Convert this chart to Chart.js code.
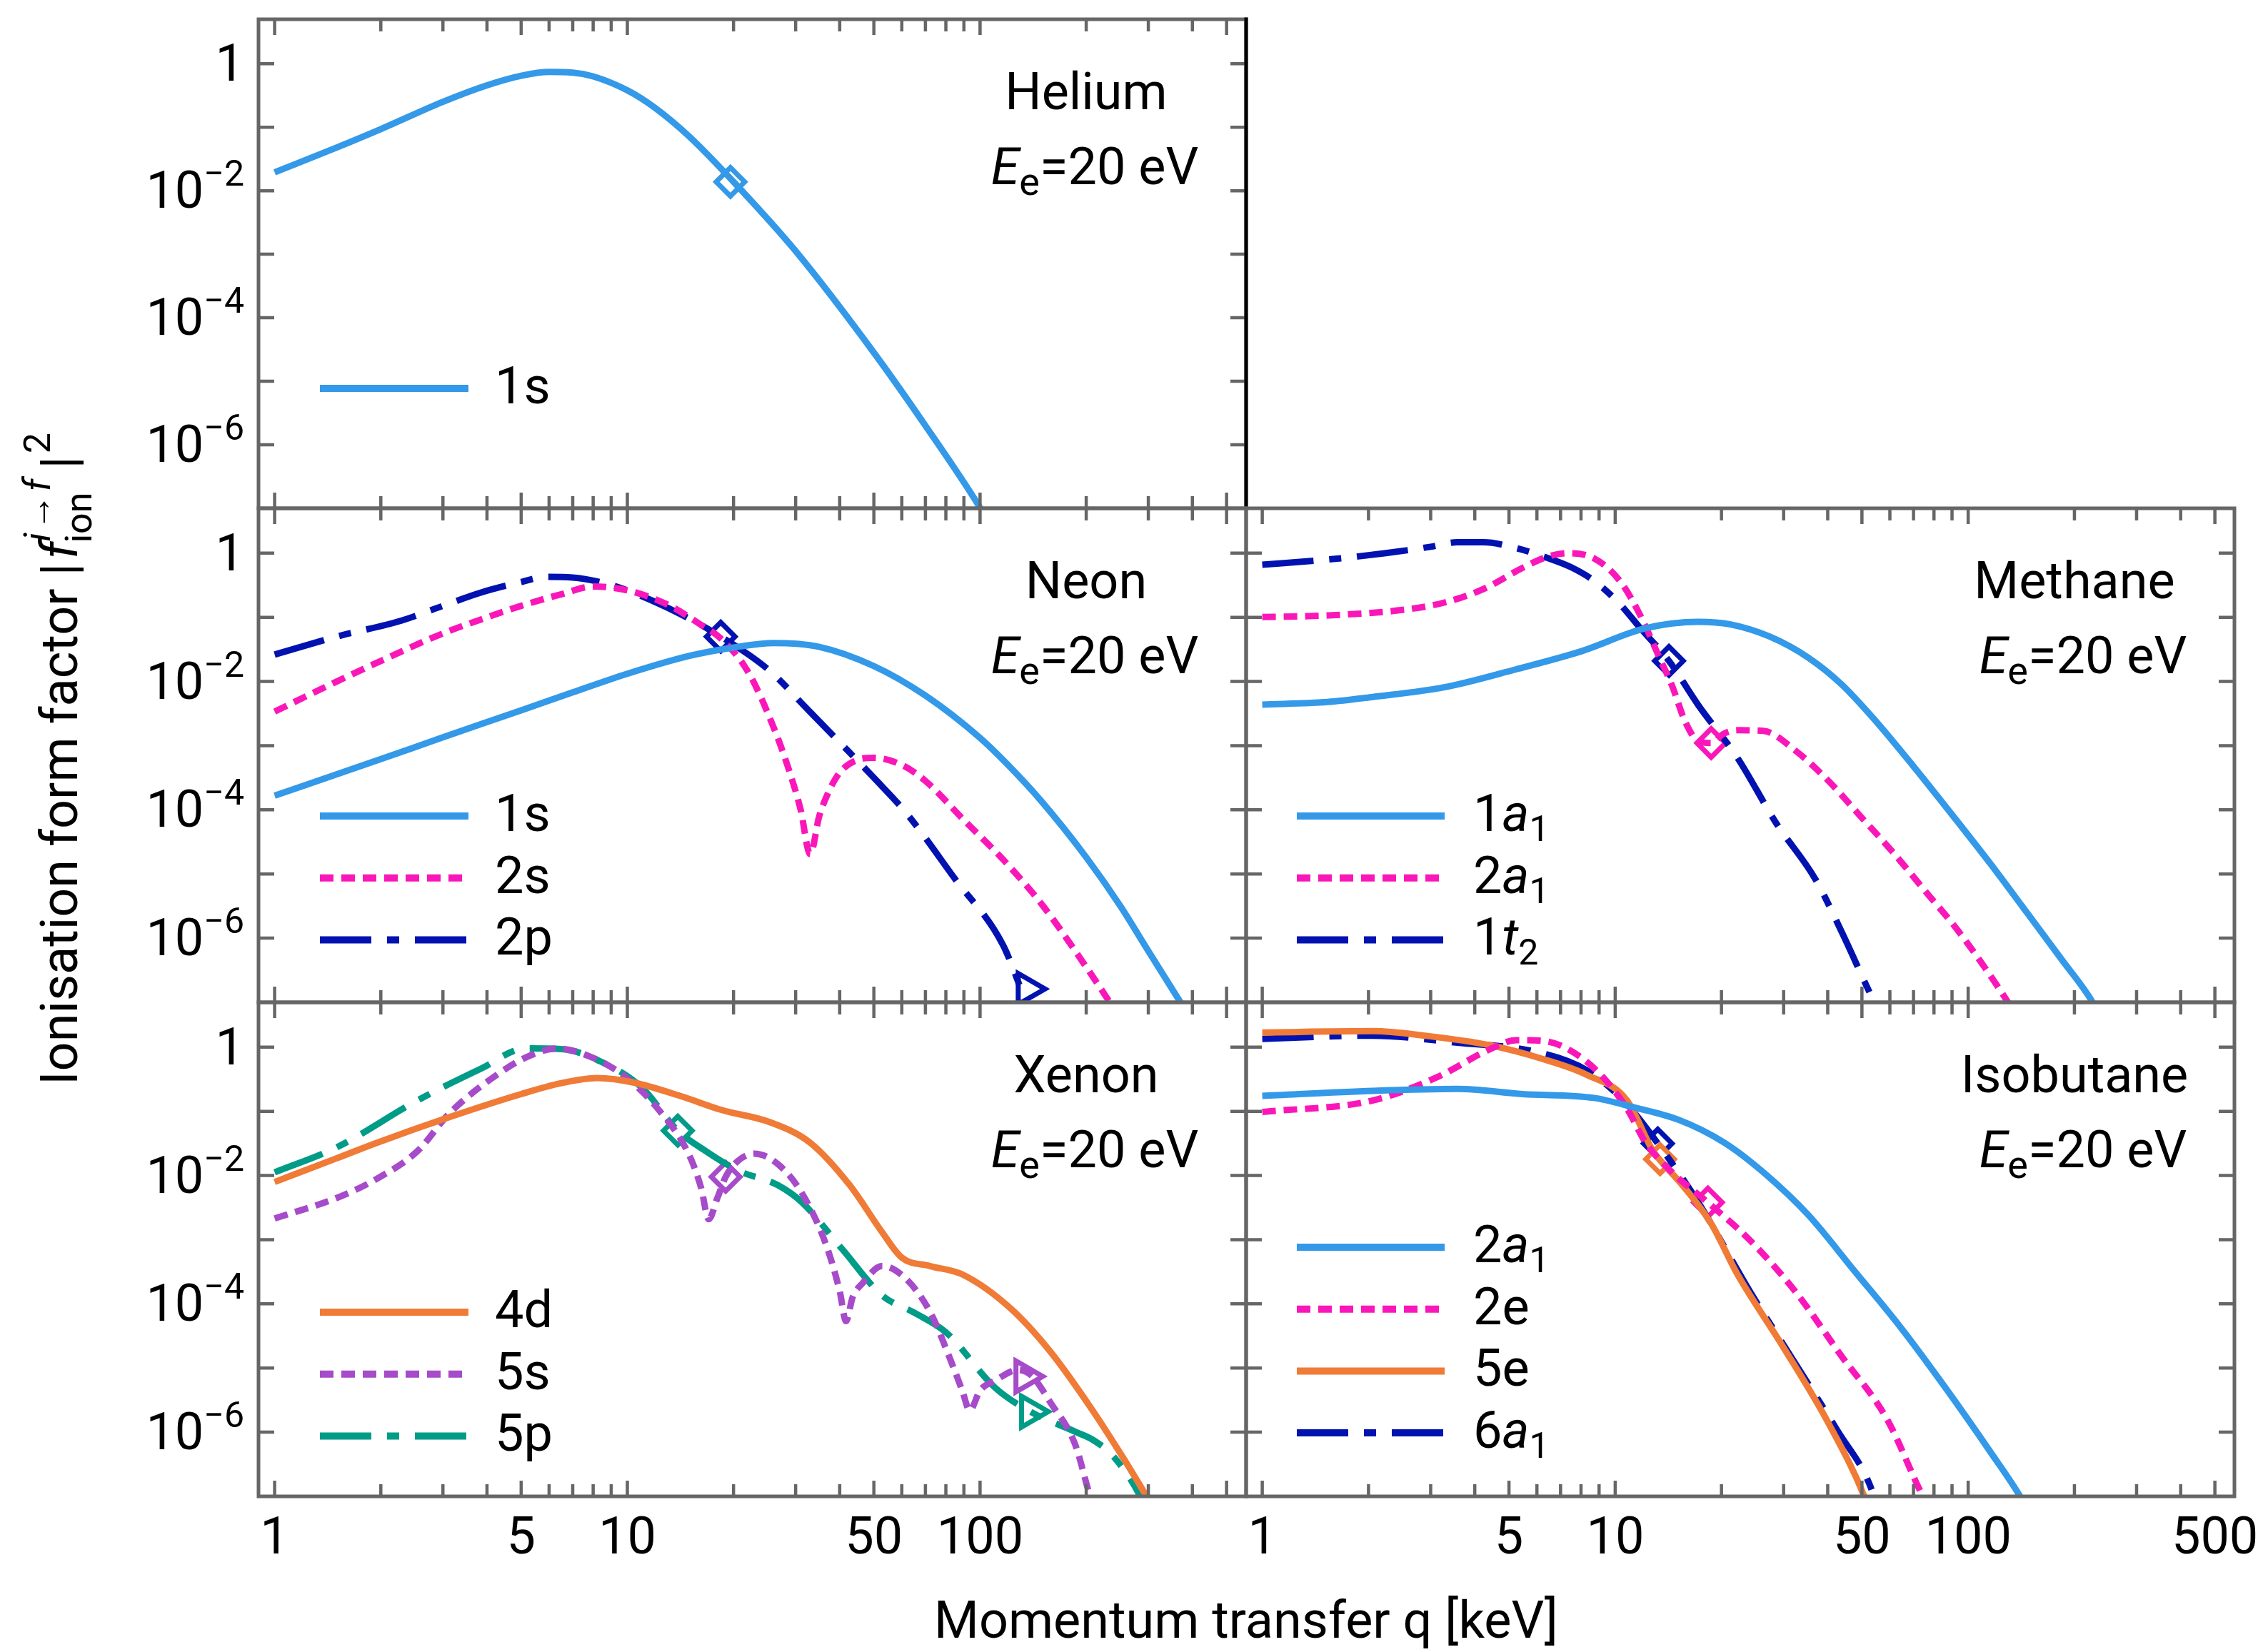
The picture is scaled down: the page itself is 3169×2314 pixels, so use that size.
<!DOCTYPE html>
<html lang="en">
<head>
<meta charset="UTF-8">
<title>Ionisation form factors</title>
<script src="https://cdn.jsdelivr.net/npm/chart.js"></script>
<style>
  body { margin: 0; background: #fff; overflow: hidden; }
  #page { position: relative; width: 3169px; height: 2314px; }
  #page canvas { position: absolute; left: 0; top: 0; }
</style>
</head>
<body>
<div id="page">
  <canvas id="cHe" width="3169" height="2314"></canvas>
  <canvas id="cNe" width="3169" height="2314"></canvas>
  <canvas id="cMe" width="3169" height="2314"></canvas>
  <canvas id="cXe" width="3169" height="2314"></canvas>
  <canvas id="cIb" width="3169" height="2314"></canvas>
</div>
<script>
// ---- values: q [keV] and |f|^2 ----
const he1sQ = [1, 1.5, 2, 3, 4, 5, 6, 7, 8, 10, 12, 15, 20, 30, 50, 70, 100, 110];
const he1sF = [1.95e-2, 4.79e-2, 9.33e-2, 0.251, 0.457, 0.646, 0.741, 0.724, 0.631, 0.380, 0.200, 7.08e-2, 1.38e-2, 1.12e-3, 2.82e-5, 2.0e-6, 1.02e-7, 4e-8];

const ne1sQ = [1, 2, 3, 5, 7, 10, 15, 20, 26, 35, 50, 70, 100, 120, 150, 200, 250, 300, 370, 400];
const ne1sF = [1.66e-4, 6.17e-4, 1.35e-3, 3.55e-3, 6.76e-3, 1.32e-2, 2.51e-2, 3.39e-2, 3.98e-2, 3.47e-2, 1.74e-2, 6.03e-3, 1.32e-3, 5.01e-4, 1.32e-4, 1.82e-5, 3.16e-6, 6.31e-7, 1.0e-7, 5e-8];
const ne2sQ = [1, 1.5, 2, 3, 4, 5, 6.5, 8, 10, 13, 16, 18.4, 22, 26, 29, 31, 33, 35, 37, 40, 45, 50, 60, 70, 90, 116, 150, 200, 240];
const ne2sF = [3.39e-3, 1.0e-2, 2.09e-2, 5.62e-2, 0.1, 0.151, 0.229, 0.302, 0.263, 0.158, 7.94e-2, 4.68e-2, 1.41e-2, 1.91e-3, 3.55e-4, 1.0e-4, 2.04e-5, 7.94e-5, 1.78e-4, 3.80e-4, 6.03e-4, 6.46e-4, 5.01e-4, 2.82e-4, 6.92e-5, 1.70e-5, 3.31e-6, 3.55e-7, 7.94e-8];
const ne2pQ = [1, 1.5, 2.29, 3, 3.86, 5, 5.87, 7, 8.5, 10, 13, 18.4, 25.4, 32, 40.5, 50, 62, 85, 116, 135];
const ne2pF = [2.63e-2, 5.01e-2, 8.91e-2, 0.151, 0.245, 0.355, 0.427, 0.417, 0.347, 0.263, 0.141, 5.01e-2, 1.45e-2, 3.98e-3, 1.05e-3, 3.16e-4, 8.71e-5, 8.32e-6, 7.94e-7, 1.0e-7];

const me1a1Q = [1, 1.53, 2.06, 3.28, 5.24, 8.0, 12.2, 17.2, 21.2, 27.4, 35.3, 43.7, 54, 69.7, 93.8, 116, 143, 185, 224, 240];
const me1a1F = [4.37e-3, 4.79e-3, 5.75e-3, 8.13e-3, 1.55e-2, 2.95e-2, 6.76e-2, 8.51e-2, 7.76e-2, 5.01e-2, 2.34e-2, 9.12e-3, 2.63e-3, 4.90e-4, 6.31e-5, 1.41e-5, 3.02e-6, 4.47e-7, 1.05e-7, 5e-8];
const me2a1Q = [1, 1.53, 2.54, 3.28, 4.23, 5.46, 6.4, 7.35, 8.7, 10.3, 11.7, 13.3, 14.5, 15.8, 17.2, 18.7, 20.2, 22.2, 26.3, 32.6, 40.2, 49.7, 61.4, 75.9, 93.8, 129, 140];
const me2a1F = [0.101, 0.107, 0.132, 0.170, 0.275, 0.589, 0.871, 1.0, 0.832, 0.372, 0.115, 2.45e-2, 8.51e-3, 2.34e-3, 1.17e-3, 1.10e-3, 1.51e-3, 1.74e-3, 1.70e-3, 8.13e-4, 2.82e-4, 7.76e-5, 2.14e-5, 5.25e-6, 1.29e-6, 1.05e-7, 5e-8];
const me1t2Q = [1, 1.53, 2.24, 3.0, 3.57, 4.23, 5.24, 6.47, 7.5, 8.7, 10.3, 11.7, 14.2, 17.2, 22.2, 28.6, 36.9, 43.7, 54, 58];
const me1t2F = [0.661, 0.794, 1.0, 1.259, 1.479, 1.479, 1.202, 0.832, 0.603, 0.372, 0.162, 7.08e-2, 2.09e-2, 4.27e-3, 6.46e-4, 6.17e-5, 8.32e-6, 1.29e-6, 1.05e-7, 5e-8];

const xe4dQ = [1, 1.5, 1.95, 3.13, 5.0, 6.5, 8.2, 10.4, 14.3, 18.5, 25.4, 33, 42.7, 52.7, 60, 72, 89, 122, 158, 205, 254, 296, 320];
const xe4dF = [7.94e-3, 1.86e-2, 3.24e-2, 8.13e-2, 0.186, 0.275, 0.331, 0.282, 0.170, 0.105, 6.76e-2, 3.24e-2, 7.08e-3, 1.32e-3, 5.25e-4, 3.89e-4, 2.88e-4, 8.51e-5, 1.82e-5, 2.51e-6, 4.07e-7, 1.02e-7, 5e-8];
const xe5sQ = [1, 1.5, 1.95, 2.54, 3.13, 4.27, 5.2, 6.3, 8.03, 9.85, 12.2, 15, 16.2, 17, 18, 19, 20.5, 22.9, 26.7, 31.3, 36.6, 40, 41.7, 43.5, 46.4, 52.8, 61.7, 72.4, 82.4, 89, 93.5, 100, 110, 128, 140, 158, 186, 205, 215];
const xe5sF = [2.14e-3, 4.47e-3, 8.91e-3, 2.40e-2, 9.33e-2, 0.372, 0.708, 0.955, 0.676, 0.347, 0.110, 2.04e-2, 6.31e-3, 2.09e-3, 4.47e-3, 9.55e-3, 1.66e-2, 2.19e-2, 1.51e-2, 5.25e-3, 8.32e-4, 1.58e-4, 5.37e-5, 1.26e-4, 2.09e-4, 3.89e-4, 2.45e-4, 7.24e-5, 1.35e-5, 4.47e-6, 2.19e-6, 4.47e-6, 6.31e-6, 9.33e-6, 7.59e-6, 2.95e-6, 6.46e-7, 1.02e-7, 5e-8];
const xe5pQ = [1, 1.5, 2.54, 3.86, 5.14, 6.5, 8.45, 11, 13.9, 16.7, 20.6, 26.7, 31.3, 40.7, 52.8, 65.2, 80.3, 110, 139, 186, 209, 240, 284, 300];
const xe5pF = [1.12e-2, 2.75e-2, 0.148, 0.468, 0.955, 0.933, 0.589, 0.234, 5.01e-2, 2.40e-2, 1.20e-2, 7.08e-3, 3.80e-3, 7.08e-4, 1.35e-4, 7.24e-5, 3.55e-5, 5.01e-6, 2.09e-6, 1.02e-6, 7.59e-7, 4.07e-7, 1.02e-7, 5e-8];

const ib2a1Q = [1, 2.06, 3.57, 5.46, 8.7, 11.2, 15.1, 20.4, 26.3, 35.3, 47.5, 64, 86, 116, 140, 150];
const ib2a1F = [0.174, 0.209, 0.224, 0.186, 0.162, 0.117, 7.41e-2, 3.24e-2, 1.12e-2, 2.40e-3, 3.31e-4, 4.47e-5, 5.01e-6, 4.79e-7, 1.02e-7, 5e-8];
const ib2eQ = [1, 2.06, 3.15, 4.42, 5.24, 6.2, 7.35, 9.1, 10.8, 12.2, 14.5, 18.3, 24.1, 32.4, 43.6, 58.8, 74.3, 80];
const ib2eF = [9.77e-2, 0.148, 0.347, 0.933, 1.288, 1.259, 0.933, 0.372, 0.110, 3.24e-2, 1.12e-2, 3.80e-3, 9.77e-4, 1.55e-4, 1.58e-5, 1.62e-6, 1.02e-7, 5e-8];
const ib5eQ = [1, 2.06, 2.88, 4.42, 6.2, 8.3, 10.8, 12.8, 13.6, 15.5, 18.7, 22.2, 29.9, 40.2, 50.7, 53];
const ib5eF = [1.698, 1.778, 1.514, 1.072, 0.661, 0.372, 0.148, 2.40e-2, 1.58e-2, 7.08e-3, 1.78e-3, 2.88e-4, 2.14e-5, 1.38e-6, 1.02e-7, 5e-8];
const ib6a1Q = [1, 2.06, 3.57, 5.94, 8.3, 10.8, 13.2, 17.2, 24.1, 32.4, 42.8, 52.9, 56];
const ib6a1F = [1.349, 1.514, 1.175, 0.851, 0.437, 0.129, 3.16e-2, 3.80e-3, 1.55e-4, 1.17e-5, 1.02e-6, 1.41e-7, 5e-8];

// markers on the curves, [q, |f|^2]
const heDiamond1s = [[19.6, 1.38e-2]];
const neDiamond2p = [[18.4, 5.01e-2]];
const neTriangle2p = [[136, 1.62e-7]];
const meDiamond2a1 = [[18.7, 1.10e-3]];
const meDiamond1t2 = [[14.2, 2.09e-2]];
const xeDiamond5p = [[13.9, 5.01e-2]];
const xeDiamond5s = [[19, 9.55e-3]];
const xeTriangle5s = [[134, 7.4e-6]];
const xeTriangle5p = [[139, 2.09e-6]];
const ibDiamond5e = [[13.4, 1.8e-2]];
const ibDiamond6a1 = [[13.2, 3.16e-2]];
const ibDiamond2e = [[18.3, 3.8e-3]];

// axis ticks
const xTickMarks = [1, 2, 3, 4, 5, 6, 7, 8, 9, 10, 20, 30, 40, 50, 60, 70, 80, 90, 100, 200, 300, 400, 500];
const xLongTicks = [1, 5, 10, 50, 100, 500];
const xLabelsLeft = [1, 5, 10, 50, 100];
const xLabelsRight = [1, 5, 10, 50, 100, 500];
const yTickMarks = [1e-6, 1e-5, 1e-4, 1e-3, 1e-2, 1e-1, 1];
const yLabelVals = [1, 1e-2, 1e-4, 1e-6];
const yLabelExp = ['', '−2', '−4', '−6'];

// ---- layout / style ----
const PAGE_W = 3169, PAGE_H = 2314;
const COLS = [362, 1745, 3129];
const ROWS = [20, 712, 1404, 2096];
const XAXIS_H = 120;
const FRAME = '#666666';
const C = { lblue: '#3399e8', pink: '#fa17b9', navy: '#0212b0', orange: '#ef7b37', purple: '#a64bc9', teal: '#009c87' };
const DOT = [19, 11];
const DASHDOT = [72, 22, 17, 22];
const FONT = 'Roboto';

function curve(label, q, f, color, dash) {
  return {
    label, data: q.map((x, i) => ({ x, y: f[i] })),
    borderColor: color, borderWidth: 9, borderDash: dash || [], borderCapStyle: 'butt',
    pointRadius: 0, fill: false, cubicInterpolationMode: 'monotone', clip: 0
  };
}
function marks(pts, color, tri) {
  return {
    label: '', isMarker: true, data: pts.map(p => ({ x: p[0], y: p[1] })),
    showLine: false, pointStyle: tri ? 'triangle' : 'rectRot', pointRotation: tri ? 90 : 0,
    pointRadius: tri ? 25 : 20, pointBorderWidth: 7, pointBorderColor: color,
    pointBackgroundColor: '#ffffff', clip: 0
  };
}

function partFont(p) {
  const size = p.size || ((p.sub || p.sup) ? 50 : 72);
  return (p.it ? 'italic ' : '') + size + 'px ' + FONT;
}
function drawRich(ctx, parts, x, y, align) {
  const ws = parts.map(p => { ctx.font = partFont(p); return ctx.measureText(p.t).width; });
  const total = ws.reduce((s, w) => s + w, 0);
  let cx = align === 'center' ? x - total / 2 : align === 'right' ? x - total : x;
  ctx.textAlign = 'left';
  ctx.textBaseline = 'alphabetic';
  ctx.fillStyle = '#000';
  parts.forEach((p, i) => {
    ctx.font = partFont(p);
    ctx.fillText(p.t, cx, y + (p.sub ? (p.dy || 14) : p.sup ? -31 : 0));
    cx += ws[i];
  });
}
// "1a_1" -> 1, italic a, subscript 1
function parseLabel(s) {
  const m = s.match(/^(\d)([a-z])_(\d)$/);
  if (!m) return [{ t: s }];
  return [{ t: m[1] }, { t: m[2], it: true }, { t: m[3], sub: true }];
}

function drawTitles(ctx) {
  drawRich(ctx, [{ t: 'Momentum transfer q [keV]' }], 1745, 2294, 'center');
  ctx.save();
  ctx.translate(108, 1520);
  ctx.rotate(-Math.PI / 2);
  ctx.fillStyle = '#000';
  ctx.textAlign = 'left';
  ctx.textBaseline = 'alphabetic';
  const put = (t, x, y, font) => { ctx.font = font; ctx.fillText(t, x, y); return x + ctx.measureText(t).width; };
  let x = put('Ionisation form factor |', 0, 0, '72px ' + FONT);
  x = put('f', x + 6, 0, 'italic 72px ' + FONT);
  let xs = put('i', x, -38, 'italic 52px ' + FONT) + 4;
  xs = put('→', xs, -38, '50px ' + FONT) + 4;
  xs = put('f', xs, -38, 'italic 52px ' + FONT);
  const xb = put('ion', x - 2, 20, '52px ' + FONT);
  x = Math.max(xs, xb) + 14;
  x = put('|', x, 0, '72px ' + FONT);
  put('2', x + 4, -38, '52px ' + FONT);
  ctx.restore();
}

const decor = {
  id: 'decor',
  afterDraw(chart, args, o) {
    const { ctx, chartArea: a } = chart;
    const xs = chart.scales.x, ys = chart.scales.y;
    ctx.save();
    ctx.setLineDash([]);
    ctx.lineCap = 'butt';
    ctx.strokeStyle = FRAME;
    ctx.lineWidth = 4.5;
    ctx.beginPath();
    xTickMarks.forEach(v => {
      const px = xs.getPixelForValue(v);
      const len = xLongTicks.includes(v) ? 22 : 17;
      ctx.moveTo(px, a.bottom); ctx.lineTo(px, a.bottom - len);
      ctx.moveTo(px, a.top); ctx.lineTo(px, a.top + len);
    });
    yTickMarks.forEach(v => {
      const py = ys.getPixelForValue(v);
      ctx.moveTo(a.left, py); ctx.lineTo(a.left + 22, py);
      ctx.moveTo(a.right, py); ctx.lineTo(a.right - 22, py);
    });
    ctx.stroke();
    ctx.lineWidth = 5;
    ctx.strokeRect(a.left, a.top, a.right - a.left, a.bottom - a.top);
    if (o.blackRight) {
      ctx.strokeStyle = '#000';
      ctx.beginPath(); ctx.moveTo(a.right, a.top - 2.5); ctx.lineTo(a.right, a.bottom); ctx.stroke();
    }
    if (o.yLabels) {
      yLabelVals.forEach((v, i) => {
        const py = ys.getPixelForValue(v);
        const parts = yLabelExp[i] ? [{ t: '10' }, { t: yLabelExp[i], sup: true }] : [{ t: '1' }];
        drawRich(ctx, parts, a.left - 20, py + 24, 'right');
      });
    }
    drawRich(ctx, [{ t: o.name }], a.right - 224, a.top + 126, 'center');
    drawRich(ctx, [{ t: 'E', it: true }, { t: 'e', sub: true, size: 54, dy: 15 }, { t: '=20 eV' }],
      a.right - 212, a.top + 231, 'center');
    const items = chart.data.datasets.filter(d => !d.isMarker);
    items.forEach((d, i) => {
      const y = a.top + o.legendTop + i * 86.7;
      ctx.strokeStyle = d.borderColor;
      ctx.lineWidth = 10;
      ctx.setLineDash(d.borderDash);
      ctx.beginPath(); ctx.moveTo(a.left + o.legendX[0], y); ctx.lineTo(a.left + o.legendX[1], y); ctx.stroke();
      ctx.setLineDash([]);
      drawRich(ctx, parseLabel(d.label), a.left + o.legendX[2], y + 21, 'left');
    });
    if (o.titles) drawTitles(ctx);
    ctx.restore();
  }
};

function makePanel(id, col, row, datasets, o) {
  const showX = !!o.xLabels;
  const xAxis = {
    type: 'logarithmic', min: 0.9, max: 568, display: showX,
    grid: { display: false, drawTicks: false, tickLength: 0 },
    border: { display: false },
    ticks: {
      autoSkip: false, maxRotation: 0, minRotation: 0, padding: 19, color: '#000',
      font: { family: FONT, size: 72 }, callback: v => String(v)
    },
    afterBuildTicks: s => { if (showX) s.ticks = o.xLabels.map(v => ({ value: v })); },
    afterFit: s => { s.height = showX ? XAXIS_H : 0; s.paddingLeft = 0; s.paddingRight = 0; }
  };
  return new Chart(document.getElementById(id), {
    type: 'line',
    data: { datasets },
    options: {
      responsive: false, animation: false, devicePixelRatio: 1, events: [],
      layout: { padding: {
        left: COLS[col], right: PAGE_W - COLS[col + 1], top: ROWS[row],
        bottom: PAGE_H - ROWS[row + 1] - (showX ? XAXIS_H : 0)
      } },
      plugins: { legend: { display: false }, tooltip: { enabled: false }, decor: o },
      scales: {
        x: xAxis,
        y: { type: 'logarithmic', min: 1e-7, max: 5, display: false }
      }
    },
    plugins: [decor]
  });
}

const LEG_L = [86, 294, 331];
const LEG_R = [71, 278, 318];

makePanel('cHe', 0, 0, [
  curve('1s', he1sQ, he1sF, C.lblue),
  marks(heDiamond1s, C.lblue)
], { name: 'Helium', yLabels: true, blackRight: true, legendTop: 517, legendX: LEG_L });

makePanel('cNe', 0, 1, [
  curve('1s', ne1sQ, ne1sF, C.lblue),
  curve('2s', ne2sQ, ne2sF, C.pink, DOT),
  curve('2p', ne2pQ, ne2pF, C.navy, DASHDOT),
  marks(neDiamond2p, C.navy),
  marks(neTriangle2p, C.navy, true)
], { name: 'Neon', yLabels: true, legendTop: 431, legendX: LEG_L });

makePanel('cMe', 1, 1, [
  curve('1a_1', me1a1Q, me1a1F, C.lblue),
  curve('2a_1', me2a1Q, me2a1F, C.pink, DOT),
  curve('1t_2', me1t2Q, me1t2F, C.navy, DASHDOT),
  marks(meDiamond2a1, C.pink),
  marks(meDiamond1t2, C.navy)
], { name: 'Methane', legendTop: 431, legendX: LEG_R });

makePanel('cXe', 0, 2, [
  curve('4d', xe4dQ, xe4dF, C.orange),
  curve('5s', xe5sQ, xe5sF, C.purple, DOT),
  curve('5p', xe5pQ, xe5pF, C.teal, DASHDOT),
  marks(xeDiamond5p, C.teal),
  marks(xeDiamond5s, C.purple),
  marks(xeTriangle5s, C.purple, true),
  marks(xeTriangle5p, C.teal, true)
], { name: 'Xenon', yLabels: true, legendTop: 434, legendX: LEG_L, xLabels: xLabelsLeft, titles: true });

makePanel('cIb', 1, 2, [
  curve('2a_1', ib2a1Q, ib2a1F, C.lblue),
  curve('2e', ib2eQ, ib2eF, C.pink, DOT),
  curve('5e', ib5eQ, ib5eF, C.orange),
  curve('6a_1', ib6a1Q, ib6a1F, C.navy, DASHDOT),
  marks(ibDiamond5e, C.orange),
  marks(ibDiamond6a1, C.navy),
  marks(ibDiamond2e, C.pink)
], { name: 'Isobutane', legendTop: 343, legendX: LEG_R, xLabels: xLabelsRight });
</script>
</body>
</html>
